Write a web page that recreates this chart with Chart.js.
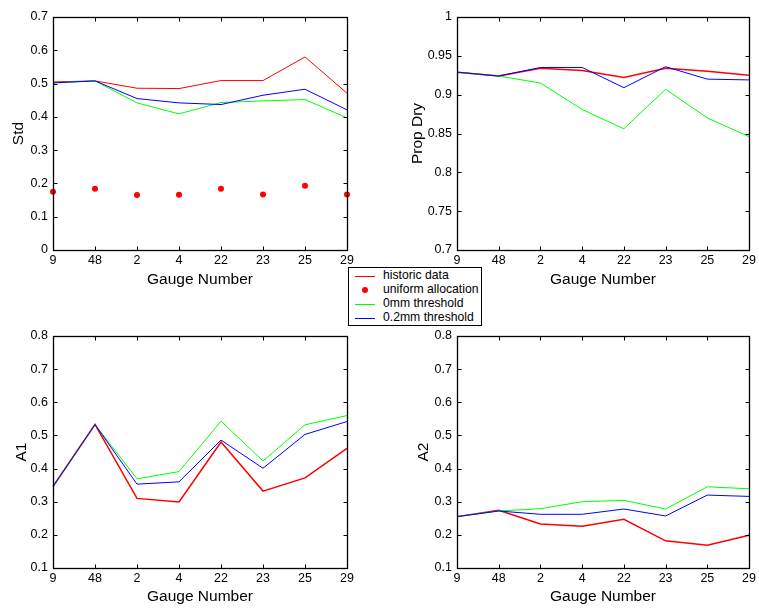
<!DOCTYPE html>
<html>
<head>
<meta charset="utf-8">
<script src="https://cdn.jsdelivr.net/npm/chart.js@4.4.1/dist/chart.umd.min.js"></script>
<style>
  body { margin: 0; background: #fff; }
  #wrap { position: relative; width: 759px; height: 608px; overflow: hidden; font-family: "Liberation Sans", Arial, sans-serif; }
  canvas { position: absolute; }
  #legend { position: absolute; left: 348px; top: 267px; width: 132px; height: 57px; border: 1px solid #000; background: #fff; font-size: 12.2px; color: #000; }
  .row { position: absolute; left: 0; height: 14px; width: 132px; }
  .row .ln { position: absolute; left: 6px; top: 7px; width: 20px; height: 1px; }
  .row .dot { position: absolute; left: 13px; top: 4px; width: 6px; height: 6px; border-radius: 50%; background: #f00; }
  .row span { position: absolute; left: 34px; top: -1px; white-space: nowrap; line-height: 15px; }
</style>
</head>
<body>
<div id="wrap">
  <canvas id="cStd" width="380" height="300" style="left:0;top:0"></canvas>
  <canvas id="cDry" width="379" height="300" style="left:380px;top:0"></canvas>
  <canvas id="cA1" width="380" height="300" style="left:0;top:308px"></canvas>
  <canvas id="cA2" width="379" height="300" style="left:380px;top:308px"></canvas>
  <div id="legend">
    <div class="row" style="top:1px"><div class="ln" style="background:#f00"></div><span>historic data</span></div>
    <div class="row" style="top:15px"><div class="dot"></div><span>uniform allocation</span></div>
    <div class="row" style="top:29px"><div class="ln" style="background:#0f0"></div><span>0mm threshold</span></div>
    <div class="row" style="top:43px"><div class="ln" style="background:#00f"></div><span>0.2mm threshold</span></div>
  </div>
</div>
<script>
// categories
const gauges = ['9', '48', '2', '4', '22', '23', '25', '29'];

// Std panel
const stdHistoric = [0.505, 0.508, 0.486, 0.485, 0.509, 0.509, 0.580, 0.471];
const stdUniform  = [0.175, 0.184, 0.165, 0.166, 0.184, 0.167, 0.193, 0.167];
const stdZero     = [0.502, 0.508, 0.442, 0.409, 0.443, 0.448, 0.452, 0.397];
const stdPoint2   = [0.502, 0.508, 0.455, 0.442, 0.437, 0.465, 0.483, 0.421];
const stdTicks    = [0, 0.1, 0.2, 0.3, 0.4, 0.5, 0.6, 0.7];

// Prop Dry panel
const dryHistoric = [0.929, 0.924, 0.934, 0.931, 0.922, 0.934, 0.930, 0.925];
const dryZero     = [0.929, 0.924, 0.915, 0.881, 0.856, 0.907, 0.870, 0.846];
const dryPoint2   = [0.929, 0.924, 0.935, 0.935, 0.909, 0.936, 0.920, 0.919];
const dryTicks    = [0.7, 0.75, 0.8, 0.85, 0.9, 0.95, 1];

// A1 panel
const a1Historic = [0.346, 0.533, 0.310, 0.299, 0.480, 0.332, 0.372, 0.461];
const a1Zero     = [0.346, 0.533, 0.369, 0.391, 0.543, 0.423, 0.532, 0.560];
const a1Point2   = [0.346, 0.533, 0.353, 0.360, 0.486, 0.401, 0.503, 0.542];

// A2 panel
const a2Historic = [0.255, 0.274, 0.233, 0.226, 0.247, 0.182, 0.169, 0.199];
const a2Zero     = [0.255, 0.272, 0.279, 0.300, 0.304, 0.278, 0.345, 0.339];
const a2Point2   = [0.255, 0.272, 0.262, 0.262, 0.278, 0.257, 0.320, 0.316];
const aTicks     = [0.1, 0.2, 0.3, 0.4, 0.5, 0.6, 0.7, 0.8];

const FONT = '"Liberation Sans", Arial, sans-serif';

// matlab style box with inward ticks
const framePlugin = {
  id: 'frame',
  afterDraw(chart) {
    const { ctx, chartArea: a, scales } = chart;
    const L = Math.round(a.left) + 0.5, R = Math.round(a.right) + 0.5;
    const T = Math.round(a.top) + 0.5, B = Math.round(a.bottom) + 0.5;
    ctx.save();
    ctx.strokeStyle = '#000';
    ctx.lineWidth = 1;
    ctx.beginPath();
    scales.x.ticks.forEach((t, i) => {
      const x = Math.round(scales.x.getPixelForTick(i)) + 0.5;
      ctx.moveTo(x, B); ctx.lineTo(x, B - 4);
      ctx.moveTo(x, T); ctx.lineTo(x, T + 4);
    });
    scales.y.ticks.forEach(t => {
      const y = Math.round(scales.y.getPixelForValue(t.value)) + 0.5;
      ctx.moveTo(L, y); ctx.lineTo(L + 4, y);
      ctx.moveTo(R, y); ctx.lineTo(R - 4, y);
    });
    ctx.stroke();
    ctx.lineWidth = 1.3;
    ctx.strokeRect(L, T, R - L, B - T);
    ctx.restore();
  }
};

function lineSet(label, data, color, width, order) {
  return { label, data, borderColor: color, backgroundColor: color, borderWidth: width,
           pointRadius: 0, fill: false, tension: 0, order };
}

function makeChart(id, yLabel, yTicks, datasets, box) {
  new Chart(document.getElementById(id), {
    type: 'line',
    data: { labels: gauges, datasets },
    options: {
      responsive: false,
      animation: false,
      devicePixelRatio: 1,
      layout: { padding: { top: box.top, right: box.right, left: 0, bottom: 0 } },
      plugins: { legend: { display: false }, tooltip: { enabled: false } },
      scales: {
        x: {
          type: 'category',
          offset: false,
          grid: { display: false, drawTicks: false },
          border: { display: false },
          ticks: { color: '#000', font: { family: FONT, size: 12.5 }, padding: 3, maxRotation: 0, autoSkip: false },
          title: { display: true, text: 'Gauge Number', color: '#000',
                   font: { family: FONT, size: 15.5 }, padding: { top: 0, bottom: box.xPad } },
          afterFit: s => { s.height = box.xh; }
        },
        y: {
          min: yTicks[0],
          max: yTicks[yTicks.length - 1],
          grid: { display: false, drawTicks: false },
          border: { display: false },
          afterBuildTicks: s => { s.ticks = yTicks.map(v => ({ value: v })); },
          ticks: { color: '#000', font: { family: FONT, size: 12.5 }, padding: 5,
                   callback: v => String(+Number(v).toFixed(2)) },
          title: { display: true, text: yLabel, color: '#000',
                   font: { family: FONT, size: 15.5 }, padding: { top: box.yPad, bottom: 0 } },
          afterFit: s => { s.width = box.yw; }
        }
      }
    },
    plugins: [framePlugin]
  });
}

makeChart('cStd', 'Std', stdTicks, [
  lineSet('historic data', stdHistoric, '#ff0000', 1, 4),
  { label: 'uniform allocation', data: stdUniform, showLine: false, pointRadius: 3,
    pointBackgroundColor: '#ff0000', pointBorderColor: '#ff0000', pointBorderWidth: 0, order: 3 },
  lineSet('0mm threshold', stdZero, '#00ff00', 1, 2),
  lineSet('0.2mm threshold', stdPoint2, '#0000ff', 1, 1)
], { top: 17, right: 33, yw: 53, xh: 50, xPad: 11, yPad: 9 });

makeChart('cDry', 'Prop Dry', dryTicks, [
  lineSet('historic data', dryHistoric, '#ff0000', 1.5, 4),
  lineSet('0mm threshold', dryZero, '#00ff00', 1, 2),
  lineSet('0.2mm threshold', dryPoint2, '#0000ff', 1, 1)
], { top: 17, right: 7, yw: 77, xh: 50, xPad: 11, yPad: 28 });

makeChart('cA1', 'A1', aTicks, [
  lineSet('historic data', a1Historic, '#ff0000', 1.5, 4),
  lineSet('0mm threshold', a1Zero, '#00ff00', 1, 2),
  lineSet('0.2mm threshold', a1Point2, '#0000ff', 1, 1)
], { top: 28, right: 33, yw: 53, xh: 40, xPad: 2, yPad: 12 });

makeChart('cA2', 'A2', aTicks, [
  lineSet('historic data', a2Historic, '#ff0000', 1.5, 4),
  lineSet('0mm threshold', a2Zero, '#00ff00', 1, 2),
  lineSet('0.2mm threshold', a2Point2, '#0000ff', 1, 1)
], { top: 28, right: 7, yw: 77, xh: 40, xPad: 2, yPad: 34 });
</script>
</body>
</html>
